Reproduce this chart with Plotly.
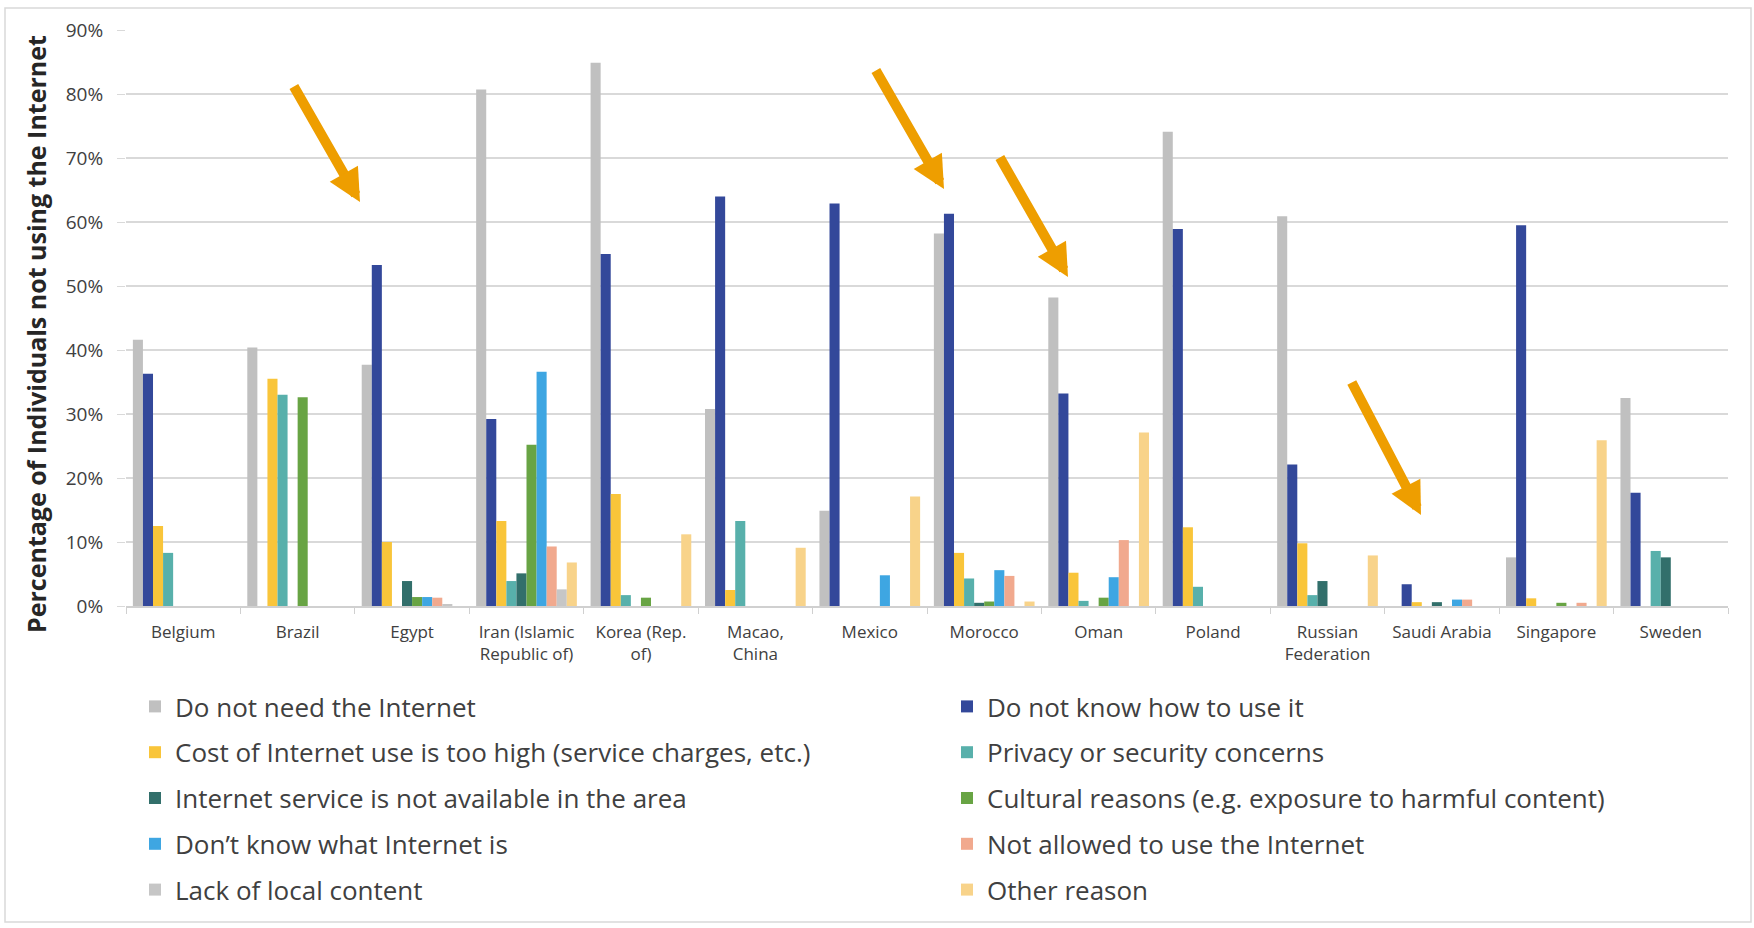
import plotly.graph_objects as go

countries = ["Belgium", "Brazil", "Egypt", "Iran (Islamic<br>Republic of)", "Korea (Rep.<br>of)",
             "Macao,<br>China", "Mexico", "Morocco", "Oman", "Poland", "Russian<br>Federation",
             "Saudi Arabia", "Singapore", "Sweden"]

series_names = [
    "Do not need the Internet",
    "Do not know how to use it",
    "Cost of Internet use is too high (service charges, etc.)",
    "Privacy or security concerns",
    "Internet service is not available in the area",
    "Cultural reasons (e.g. exposure to harmful content)",
    "Don’t know what Internet is",
    "Not allowed to use the Internet",
    "Lack of local content",
    "Other reason",
]
series_colors = ["#C0C0C0", "#33489A", "#F9C53A", "#58B0AB", "#326F6B",
                 "#68A444", "#3EA6E2", "#F1A98E", "#C6C6C6", "#F8D38A"]

#                 Bel   Bra   Egy   Iran  Kor   Mac   Mex   Mor   Oman  Pol   Rus   Sau   Sing  Swe
do_not_need   = [41.6, 40.4, 37.7, 80.7, 84.9, 30.8, 14.9, 58.2, 48.2, 74.1, 60.9, 0.0,  7.6,  32.5]
not_know_how  = [36.3, 0.0,  53.3, 29.2, 55.0, 64.0, 62.9, 61.3, 33.2, 58.9, 22.1, 3.4,  59.5, 17.7]
cost_high     = [12.5, 35.5, 10.0, 13.3, 17.5, 2.5,  0.0,  8.3,  5.2,  12.3, 9.8,  0.6,  1.2,  0.0]
privacy       = [8.3,  33.0, 0.0,  3.9,  1.7,  13.3, 0.0,  4.3,  0.8,  3.0,  1.7,  0.0,  0.0,  8.6]
not_available = [0.0,  0.0,  3.9,  5.1,  0.0,  0.0,  0.0,  0.5,  0.0,  0.0,  3.9,  0.6,  0.0,  7.6]
cultural      = [0.0,  32.6, 1.4,  25.2, 1.3,  0.0,  0.0,  0.7,  1.3,  0.0,  0.0,  0.0,  0.5,  0.0]
dont_know     = [0.0,  0.0,  1.4,  36.6, 0.0,  0.0,  4.8,  5.6,  4.5,  0.0,  0.0,  1.0,  0.0,  0.0]
not_allowed   = [0.0,  0.0,  1.3,  9.3,  0.0,  0.0,  0.0,  4.7,  10.3, 0.0,  0.0,  1.0,  0.5,  0.0]
local_content = [0.0,  0.0,  0.3,  2.6,  0.0,  0.0,  0.0,  0.0,  0.0,  0.0,  0.0,  0.0,  0.0,  0.0]
other_reason  = [0.0,  0.0,  0.0,  6.8,  11.2, 9.1,  17.1, 0.7,  27.1, 0.0,  7.9,  0.0,  25.9, 0.0]

series_values = [do_not_need, not_know_how, cost_high, privacy, not_available,
                 cultural, dont_know, not_allowed, local_content, other_reason]

y_ticks = [0, 10, 20, 30, 40, 50, 60, 70, 80, 90]
y_tick_labels = ["0%", "10%", "20%", "30%", "40%", "50%", "60%", "70%", "80%", "90%"]

W, H = 1754, 928
L, R, T, B = 126, 1728, 30, 606


def px(x):
    return (x - L) / (R - L)


def py(y):
    return (B - y) / (B - T)


FONT = "Open Sans"
fig = go.Figure()
for i, (name, vals, col) in enumerate(zip(series_names, series_values, series_colors)):
    fig.add_trace(go.Bar(
        name=name, x=countries, y=vals, marker=dict(color=col, line=dict(width=0)),
        legend="legend" if i % 2 == 0 else "legend2", legendgroup=name,
    ))

legend_common = dict(orientation="v", yanchor="top", xanchor="left", y=py(683),
                     font=dict(family=FONT, size=26, color="#404040"),
                     tracegroupgap=9, bgcolor="rgba(0,0,0,0)", itemclick=False)

fig.update_layout(
    width=W, height=H,
    margin=dict(l=L, r=W - R, t=T, b=H - B, autoexpand=False),
    paper_bgcolor="white", plot_bgcolor="white",
    barmode="group", bargap=0.12, bargroupgap=0,
    font=dict(family=FONT, color="#404040"),
    legend=dict(x=px(135), **legend_common),
    legend2=dict(x=px(947), **legend_common),
    xaxis=dict(type="category", showgrid=False, showline=True, linecolor="#D0D0D0", linewidth=1.5,
               ticks="outside", tickson="boundaries", ticklen=6, tickcolor="#D0D0D0",
               ticklabelstandoff=10, tickangle=0,
               tickfont=dict(family=FONT, size=17, color="#404040")),
    yaxis=dict(range=[0, 90], tickvals=y_ticks, ticktext=y_tick_labels, showgrid=True,
               gridcolor="#D9D9D9", gridwidth=1.5, zeroline=False, showline=False,
               ticks="outside", ticklen=8, tickcolor="#D9D9D9", ticklabelstandoff=10,
               tickfont=dict(family=FONT, size=19, color="#404040")),
    showlegend=True,
)

fig.add_annotation(text="<b>Percentage of Individuals not using the Internet</b>",
                   xref="paper", yref="paper", x=px(36), y=py(334), textangle=-90,
                   showarrow=False, xanchor="center", yanchor="middle",
                   font=dict(family=FONT, size=25, color="#262626"))

arrows = [((360, 202), (293, 85)), ((944, 189), (875, 69)),
          ((1068, 277), (999, 156)), ((1421, 515), (1351, 381))]
for (tx, ty), (sx, sy) in arrows:
    fig.add_annotation(text="", xref="paper", yref="paper", x=px(tx), y=py(ty),
                       ax=sx - tx, ay=sy - ty, showarrow=True, arrowhead=2,
                       arrowsize=0.65, arrowwidth=10, arrowcolor="#EE9E00", standoff=0)

fig.add_shape(type="rect", xref="paper", yref="paper", x0=px(5), x1=px(1751), y0=py(922), y1=py(8),
              line=dict(color="#D9D9D9", width=1.5), fillcolor="rgba(0,0,0,0)", layer="below")

fig.write_html("out.html")
